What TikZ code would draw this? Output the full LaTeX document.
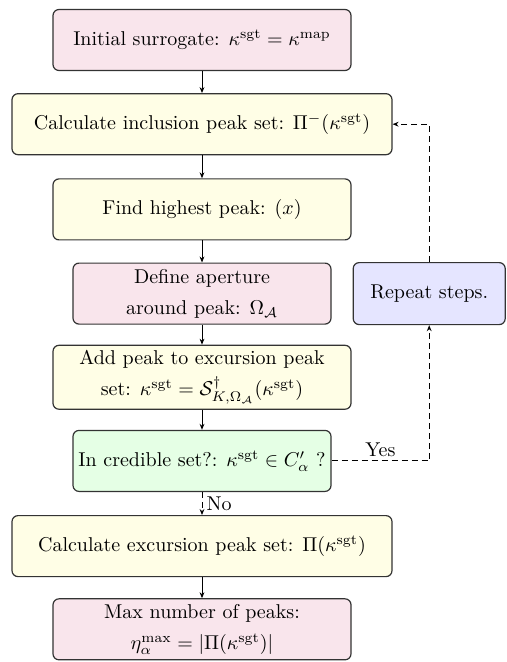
\documentclass[tikz,border=0pt]{standalone}
\usepackage{amsmath,amssymb}
\usepackage{tikz}
\usetikzlibrary{positioning, arrows.meta}

\begin{document}
\begin{tikzpicture}[
  x=0.5pt, y=-0.5pt,
  font=\fontsize{10}{15.5}\selectfont,
  node distance=11.5pt,
  base/.style={draw=black!80, line width=0.6pt, rounded corners=3pt,
    minimum width=149pt, minimum height=30.5pt, align=center,
    inner sep=2.5pt},
  init/.style={base, fill=purple!10},
  proc/.style={base, fill=yellow!10},
  test/.style={base, fill=green!10},
  loopbox/.style={base, fill=blue!10},
  arrow/.style={-{Stealth[length=3pt, width=2.4pt]}, line width=0.5pt},
  back/.style={arrow, dash pattern=on 3pt off 2pt},
]
  \useasboundingbox (0,0) rectangle (507,662);

  \node[init] (start) at (202,40) {Initial surrogate: $\kappa^{\mathrm{sgt}} = \kappa^{\mathrm{map}}$};
  \node[proc, minimum width=190pt, below=11pt of start] (incl)
    {Calculate inclusion peak set: $\Pi^{-}(\kappa^{\mathrm{sgt}})$};
  \node[proc, below=11.5pt of incl] (high) {Find highest peak: $(x)$};
  \node[init, minimum width=129pt, below=11pt of high] (aper)
    {Define aperture\\around peak: $\Omega_{\mathcal{A}}$};
  \node[proc, below=10pt of aper] (add)
    {Add peak to excursion peak\\set: $\kappa^{\mathrm{sgt}} = \mathcal{S}^{\dagger}_{K,\Omega_{\mathcal{A}}}(\kappa^{\mathrm{sgt}})$};
  \node[test, minimum width=129pt, below=10pt of add] (check)
    {In credible set?: $\kappa^{\mathrm{sgt}} \in C'_{\alpha}$ ?};
  \node[proc, minimum width=190pt, below=11.5pt of check] (excu)
    {Calculate excursion peak set: $\Pi(\kappa^{\mathrm{sgt}})$};
  \node[init, below=10.5pt of excu] (max)
    {Max number of peaks:\\$\eta^{\max}_{\alpha} = |\Pi(\kappa^{\mathrm{sgt}})|$};

  \node[loopbox, minimum width=76pt, minimum height=31pt, right=10.5pt of aper] (rep)
    {Repeat steps.};

  \foreach \a/\b in {start/incl, incl/high, high/aper, aper/add, add/check, excu/max}{
    \draw[arrow] (\a) -- (\b);
  }
  \draw[back] (check) -- node[right, inner sep=2pt] {No} (excu);
  \draw[back] (check.east) -| node[pos=0.25, above, inner sep=2pt] {Yes} (rep.south);
  \draw[back] (rep.north) |- (incl.east);
\end{tikzpicture}
\end{document}
